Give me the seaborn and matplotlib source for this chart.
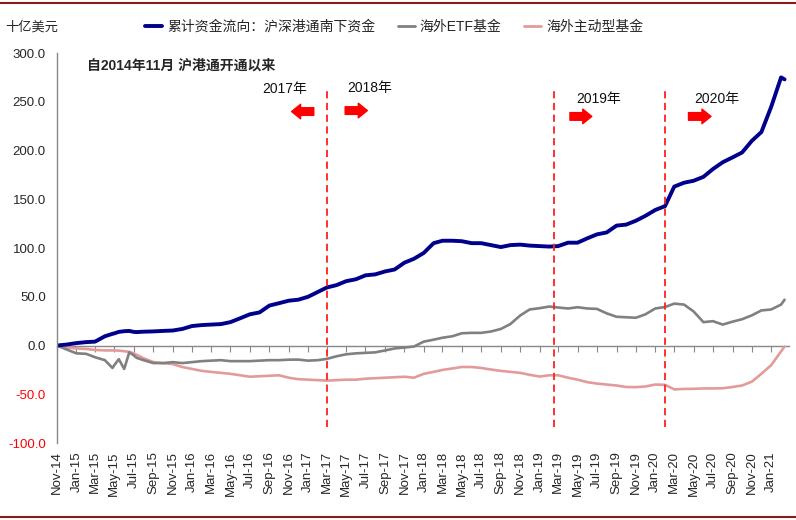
import matplotlib
matplotlib.use("Agg")
import matplotlib.pyplot as plt
import matplotlib.dates as mdates
from matplotlib.lines import Line2D
from matplotlib.ticker import FormatStrFormatter
import seaborn as sns
import pandas as pd

# ---------------- data ----------------
monthly_dates = list(pd.date_range("2014-11-01", "2021-02-01", freq="MS").strftime("%Y-%m-%d"))
extra_dates = ["2015-04-25", "2015-05-15", "2015-06-17", "2015-07-10", "2021-02-12"]
dates = sorted(monthly_dates + extra_dates)

southbound = [0, 1, 2.5, 3.5, 4, 9.5, 12, 12.5, 14, 14.7, 15, 14, 13.8, 14.2, 14.5,
              15, 15.4, 17, 20, 21, 21.5, 22, 24, 28, 32, 34, 41, 43.4, 46, 47, 50, 55,
              59.5, 62, 66, 68, 72, 73, 76, 78, 85, 89, 95, 105, 107.5, 107.5, 107, 105,
              105, 103, 101, 103, 103.5, 102.5, 102, 101.5, 102, 105.5, 105.5, 110, 114,
              116, 123, 124, 128, 133, 139, 143, 163, 167, 169, 173, 181, 188, 193, 198,
              210, 219, 245, 275, 273]
etf = [0, -4, -8, -8.5, -12, -15, -23, -20, -14, -24, -7, -10, -12.6, -15, -18,
       -18, -17, -18, -17, -16, -15.5, -15, -16, -16, -16, -15.5, -15, -15, -14.5, -14.4,
       -15.5, -15, -13.7, -11, -9, -8, -7.5, -7, -5, -3, -2, -1, 4, 6, 8, 9.5, 12.6, 13,
       13, 14.4, 17, 22, 30.8, 37, 38.3, 40, 39, 38, 39.3, 38, 37.6, 33, 29.5, 29, 28.5,
       32, 38, 39.5, 43, 42, 35, 24, 25, 21.5, 24.5, 27, 31, 36, 37, 42, 47]
active = [0, -2, -3, -3.5, -4.5, -5, -5, -5, -5.2, -5.8, -6.5, -8, -9.5, -13, -17,
          -18, -19, -22, -24, -26, -27, -28, -29, -30.5, -32, -31.5, -31, -30.5, -33,
          -34.5, -35, -35.5, -36, -35.5, -35, -35, -34, -33.5, -33, -32.5, -32, -33, -29,
          -27, -25, -23.5, -22, -22, -23, -24.6, -26, -27, -28, -30, -31.8, -30.5, -30.5,
          -33, -35, -37.6, -39, -40, -41, -42.5, -42.7, -42, -40, -40.3, -45, -44.5,
          -44.4, -44, -44, -43.8, -42.5, -41, -37, -29, -20, -6, -1]

series_names = ["累计资金流向：沪深港通南下资金", "海外ETF基金", "海外主动型基金"]
series_colors = ["#00008B", "#808080", "#E39A9A"]
series_widths = [2.8, 1.9, 1.9]

y_ticks = [-100, -50, 0, 50, 100, 150, 200, 250, 300]
y_unit = "十亿美元"
subtitle = "自2014年11月 沪港通开通以来"

event_lines = ["2017-03-01", "2019-02-15", "2020-02-01"]
year_labels = ["2017年", "2018年", "2019年", "2020年"]
year_label_pos = [("2016-10-18", 263.5), ("2017-07-14", 264.5), ("2019-07-08", 253), ("2020-07-13", 253)]
arrow_from = [("2017-01-19", 240), ("2017-04-28", 241), ("2019-04-07", 235), ("2020-04-15", 235)]
arrow_to = [("2016-11-10", 240), ("2017-07-07", 241), ("2019-06-15", 235), ("2020-06-25", 235)]

# ---------------- style ----------------
sns.set_style("white")
plt.rcParams["font.family"] = ["Liberation Sans", "Noto Sans CJK SC", "DejaVu Sans"]
plt.rcParams["axes.unicode_minus"] = False

df = pd.DataFrame({"date": pd.to_datetime(dates)})
long = []
for name, vals in zip(series_names, [southbound, etf, active]):
    long.append(pd.DataFrame({"date": pd.to_datetime(dates), "value": vals, "series": name}))
long = pd.concat(long, ignore_index=True)

fig = plt.figure(figsize=(7.96, 5.2), dpi=100)
ax = fig.add_axes([0.0716, 0.148, 0.92, 0.75])

for name, col, lw in zip(series_names[::-1], series_colors[::-1], series_widths[::-1]):
    sns.lineplot(data=long[long["series"] == name], x="date", y="value", color=col,
                 linewidth=lw, ax=ax, legend=False)

ax.set_ylim(-100, 300)
ax.set_yticks(y_ticks)
ax.yaxis.set_major_formatter(FormatStrFormatter("%.1f"))
ax.set_xlim(pd.Timestamp("2014-11-01"), pd.Timestamp("2021-02-27"))
ax.set_xlabel("")
ax.set_ylabel("")

gray = "#888888"
for s in ["top", "right", "bottom"]:
    ax.spines[s].set_visible(False)
ax.spines["left"].set_color(gray)
ax.spines["left"].set_linewidth(1.0)
ax.tick_params(axis="y", direction="out", length=4, color=gray, labelsize=9.5, pad=4)

locator = mdates.MonthLocator(bymonth=(1, 3, 5, 7, 9, 11))
ax.xaxis.set_major_locator(locator)
ax.xaxis.set_major_formatter(mdates.DateFormatter("%b-%y"))
ax.tick_params(axis="x", length=0, labelsize=9.5, pad=6)
for lab in ax.get_xticklabels():
    lab.set_rotation(90)
for lab in ax.get_yticklabels():
    if lab.get_text().startswith("-"):
        lab.set_color("red")

# zero axis line with ticks
sec = ax.secondary_xaxis(0.25)
sec.xaxis.set_major_locator(mdates.MonthLocator(bymonth=(1, 3, 5, 7, 9, 11)))
sec.tick_params(axis="x", direction="out", length=4, color=gray, labelbottom=False)
sec.spines["bottom"].set_color(gray)
sec.spines["bottom"].set_linewidth(1.0)

# event lines
ax.vlines(pd.to_datetime(event_lines), -84, 262.5, colors="#FF2020",
          linestyles=(0, (4, 2.5)), linewidth=1.3)

for txt, (d, y) in zip(year_labels, year_label_pos):
    ax.text(pd.Timestamp(d), y, txt, ha="center", va="center", fontsize=10, color="#111111")
for (d0, y0), (d1, y1) in zip(arrow_from, arrow_to):
    ax.annotate("", xy=(pd.Timestamp(d1), y1), xytext=(pd.Timestamp(d0), y0),
                arrowprops=dict(arrowstyle="simple,head_length=0.65,head_width=1.05,tail_width=0.55",
                                color="#FF0000", shrinkA=0, shrinkB=0, mutation_scale=10))

# legend
handles = [Line2D([0], [0], color=c, lw=w) for c, w in zip(series_colors, [2.8, 2.0, 2.0])]
fig.legend(handles, series_names, loc="center left", bbox_to_anchor=(145 / 796, 1 - 27 / 520),
           ncol=3, frameon=False, fontsize=10, handlelength=1.25, handletextpad=0.35,
           columnspacing=1.6, borderpad=0, borderaxespad=0)

fig.text(5 / 796, 1 - 27 / 520, y_unit, ha="left", va="center", fontsize=9.5)
fig.text(87 / 796, 1 - 66 / 520, subtitle, ha="left", va="center", fontsize=10, fontweight="bold")

frame_col = "#8B1A1A"
fig.add_artist(Line2D([0, 1], [1 - 2.5 / 520] * 2, transform=fig.transFigure, color=frame_col, lw=1.5))
fig.add_artist(Line2D([0, 1], [3 / 520] * 2, transform=fig.transFigure, color=frame_col, lw=1.5))

fig.savefig("out.png", dpi=100)
